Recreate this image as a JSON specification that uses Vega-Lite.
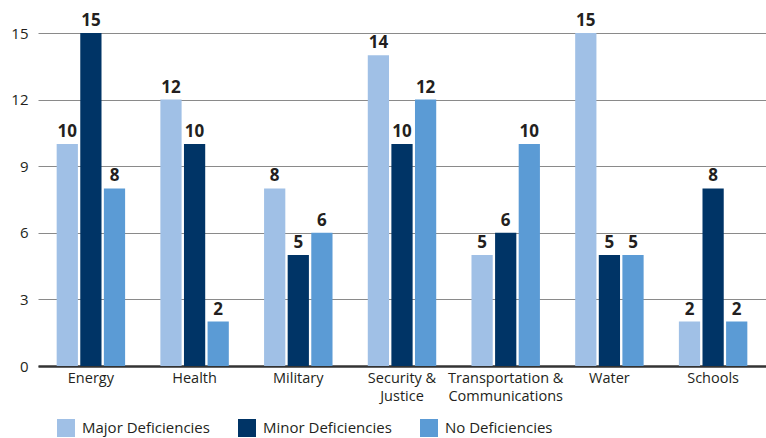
{
  "$schema": "https://vega.github.io/schema/vega-lite/v6.json",
  "width": 728,
  "height": 333,
  "autosize": {"type": "none"},
  "padding": {"left": 38, "top": 33, "right": 0, "bottom": 72},
  "background": "white",
  "config": {
    "view": {"stroke": null},
    "font": "Open Sans",
    "axis": {"labelFont": "Open Sans", "labelColor": "#231f20"},
    "legend": {"labelFont": "Open Sans"}
  },
  "data": {
    "values": [
      {"category": "Energy", "series": "Major Deficiencies", "value": 10},
      {"category": "Energy", "series": "Minor Deficiencies", "value": 15},
      {"category": "Energy", "series": "No Deficiencies", "value": 8},
      {"category": "Health", "series": "Major Deficiencies", "value": 12},
      {"category": "Health", "series": "Minor Deficiencies", "value": 10},
      {"category": "Health", "series": "No Deficiencies", "value": 2},
      {"category": "Military", "series": "Major Deficiencies", "value": 8},
      {"category": "Military", "series": "Minor Deficiencies", "value": 5},
      {"category": "Military", "series": "No Deficiencies", "value": 6},
      {"category": "Security & Justice", "series": "Major Deficiencies", "value": 14},
      {"category": "Security & Justice", "series": "Minor Deficiencies", "value": 10},
      {"category": "Security & Justice", "series": "No Deficiencies", "value": 12},
      {"category": "Transportation & Communications", "series": "Major Deficiencies", "value": 5},
      {"category": "Transportation & Communications", "series": "Minor Deficiencies", "value": 6},
      {"category": "Transportation & Communications", "series": "No Deficiencies", "value": 10},
      {"category": "Water", "series": "Major Deficiencies", "value": 15},
      {"category": "Water", "series": "Minor Deficiencies", "value": 5},
      {"category": "Water", "series": "No Deficiencies", "value": 5},
      {"category": "Schools", "series": "Major Deficiencies", "value": 2},
      {"category": "Schools", "series": "Minor Deficiencies", "value": 8},
      {"category": "Schools", "series": "No Deficiencies", "value": 2}
    ]
  },
  "encoding": {
    "x": {
      "field": "category",
      "type": "nominal",
      "sort": null,
      "scale": {"paddingInner": 0.34, "paddingOuter": 0.18},
      "axis": {
        "title": null,
        "labelAngle": 0,
        "labelFontSize": 14.5,
        "labelPadding": 5,
        "labelLineHeight": 18,
        "labelOverlap": false,
        "labelExpr": "datum.label == 'Security & Justice' ? ['Security &', 'Justice'] : datum.label == 'Transportation & Communications' ? ['Transportation &', 'Communications'] : datum.label",
        "ticks": false,
        "domainColor": "#333333",
        "domainWidth": 2.5,
        "grid": false
      }
    },
    "xOffset": {"field": "series", "type": "nominal", "scale": {"paddingInner": 0.1, "paddingOuter": 0}},
    "y": {
      "field": "value",
      "type": "quantitative",
      "scale": {"domain": [0, 15], "nice": false},
      "axis": {
        "title": null,
        "values": [0, 3, 6, 9, 12, 15],
        "labelFontSize": 15,
        "labelPadding": 10,
        "ticks": false,
        "domain": false,
        "grid": true,
        "gridColor": "#8a8a8a",
        "gridWidth": 1
      }
    }
  },
  "layer": [
    {
      "mark": {"type": "bar"},
      "encoding": {
        "color": {
          "field": "series",
          "type": "nominal",
          "scale": {
            "domain": ["Major Deficiencies", "Minor Deficiencies", "No Deficiencies"],
            "range": ["#a0c0e6", "#003466", "#5b9bd5"]
          },
          "legend": {
            "title": null,
            "orient": "none",
            "legendX": 19,
            "legendY": 386,
            "direction": "horizontal",
            "symbolType": "square",
            "symbolSize": 324,
            "symbolStrokeWidth": 0,
            "labelFontSize": 15,
            "labelColor": "#231f20",
            "labelOffset": 7,
            "columnPadding": 28
          }
        }
      }
    },
    {
      "mark": {"type": "text", "dy": -12, "fontSize": 17, "fontWeight": "bold", "color": "#231f20"},
      "encoding": {
        "text": {"field": "value", "type": "quantitative"}
      }
    }
  ]
}
